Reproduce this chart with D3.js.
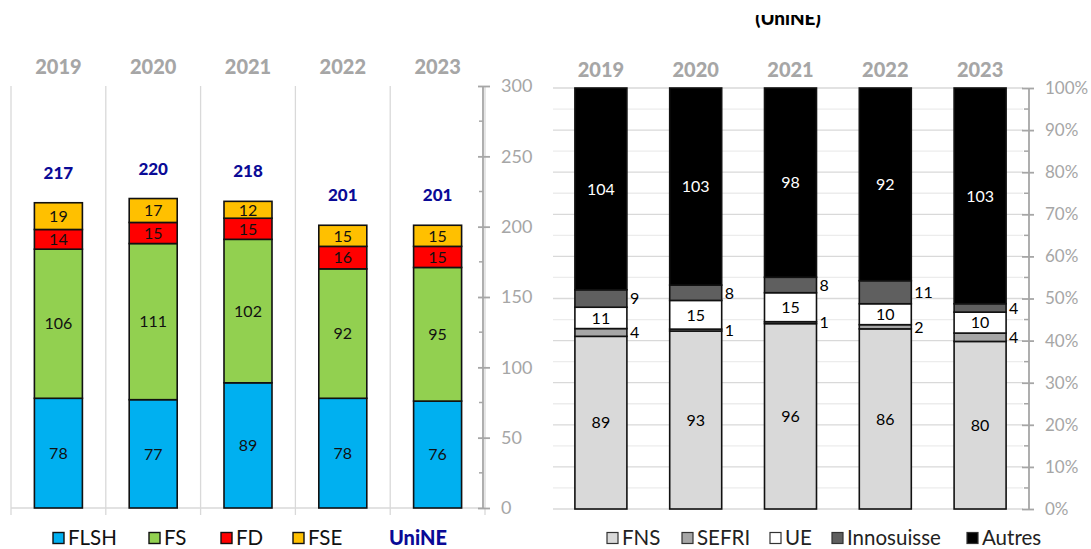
<!DOCTYPE html>
<html>
<head>
<meta charset="utf-8">
<script src="https://cdn.jsdelivr.net/npm/d3@7/dist/d3.min.js"></script>
<style>
  html, body { margin: 0; padding: 0; background: #fff; }
  svg { display: block; font-family: Lato, "Open Sans", sans-serif; }
</style>
</head>
<body>
<svg id="chart" width="1091" height="549"></svg>
<script>
// ---------- DATA ----------
const years = ["2019", "2020", "2021", "2022", "2023"];

// Left chart: faculties
const facultyNames = ["FLSH", "FS", "FD", "FSE"];
const FLSH = [78, 77, 89, 78, 76];
const FS = [106, 111, 102, 92, 95];
const FD = [14, 15, 15, 16, 15];
const FSE = [19, 17, 12, 15, 15];
const uniNETotals = [217, 220, 218, 201, 201];
const leftTicks = [0, 50, 100, 150, 200, 250, 300];

// Right chart: funding sources
const sourceNames = ["FNS", "SEFRI", "UE", "Innosuisse", "Autres"];
const FNS = [89, 93, 96, 86, 80];
const SEFRI = [4, 1, 1, 2, 4];
const UE = [11, 15, 15, 10, 10];
const Innosuisse = [9, 8, 8, 11, 4];
const Autres = [104, 103, 98, 92, 103];
const rightTicks = [0, 0.1, 0.2, 0.3, 0.4, 0.5, 0.6, 0.7, 0.8, 0.9, 1.0];

const titleFragment = "(UniNE)";

// ---------- STYLE ----------
const facultyColors = ["#00b0f0", "#92d050", "#ff0000", "#ffc000"];
const sourceColors = ["#d9d9d9", "#a6a6a6", "#ffffff", "#5f5f5f", "#000000"];
const sourceLabelColors = ["#000", "#000", "#000", "#000", "#fff"];
const sourceLabelOutside = [false, true, false, true, false];
const axisGray = "#a6a6a6";
const gridGray = "#d9d9d9";
const navy = "#0a0a96";
const legendY = 537.5;

const svg = d3.select("#chart");

// ---------- LEFT CHART ----------
const facultySeries = [FLSH, FS, FD, FSE];
const leftRows = years.map((y, i) => {
  const r = { year: y };
  facultyNames.forEach((n, k) => r[n] = facultySeries[k][i]);
  return r;
});
const leftStack = d3.stack().keys(facultyNames)(leftRows);

const xL = d3.scaleBand().domain(years).range([11, 485]).padding(0);
const yL = d3.scaleLinear().domain([0, 300]).range([508, 86]);
const barWL = 48;

const gL = svg.append("g");

// vertical separators
const sepX = years.map(y => xL(y)).concat([xL.range()[1]]);
gL.selectAll(".vsep").data(sepX).join("line")
  .attr("x1", d => d).attr("x2", d => d)
  .attr("y1", yL(300)).attr("y2", yL(0) + 7)
  .attr("stroke", gridGray).attr("stroke-width", 1.3);
// baseline
gL.append("line").attr("x1", 11).attr("x2", 485)
  .attr("y1", yL(0)).attr("y2", yL(0))
  .attr("stroke", gridGray).attr("stroke-width", 1.3);

// bars
const layerL = gL.selectAll(".layerL").data(leftStack).join("g")
  .attr("fill", (d, i) => facultyColors[i]);
layerL.selectAll("rect").data(d => d).join("rect")
  .attr("x", d => xL(d.data.year) + xL.bandwidth() / 2 - barWL / 2)
  .attr("width", barWL)
  .attr("y", d => yL(d[1]))
  .attr("height", d => yL(d[0]) - yL(d[1]))
  .attr("stroke", "#111").attr("stroke-width", 1.6);
layerL.selectAll("text").data(d => d).join("text")
  .attr("x", d => xL(d.data.year) + xL.bandwidth() / 2)
  .attr("y", d => (yL(d[0]) + yL(d[1])) / 2)
  .attr("dy", "0.36em")
  .attr("text-anchor", "middle")
  .attr("font-size", 16).attr("fill", "#111")
  .text(d => d[1] - d[0]);

// totals
gL.selectAll(".tot").data(years).join("text")
  .attr("x", y => xL(y) + xL.bandwidth() / 2)
  .attr("y", (y, i) => yL(uniNETotals[i]) - 30)
  .attr("dy", "0.36em")
  .attr("text-anchor", "middle")
  .attr("font-size", 17).attr("font-weight", 900).attr("fill", navy)
  .text((y, i) => uniNETotals[i]);

// year labels
gL.selectAll(".yr").data(years).join("text")
  .attr("x", y => xL(y) + xL.bandwidth() / 2)
  .attr("y", 67).attr("dy", "0.36em")
  .attr("text-anchor", "middle")
  .attr("font-size", 20).attr("font-weight", 900).attr("fill", axisGray)
  .text(y => y);

// right axis
const axL = d3.axisRight(yL).tickValues(leftTicks).tickSize(7).tickPadding(11).tickFormat(d3.format("d"));
const gAxL = svg.append("g").attr("transform", "translate(483,0)").call(axL);
gAxL.select(".domain").attr("stroke", axisGray).attr("stroke-width", 1.8).attr("d", `M0,${yL(300)}V${yL(0)}`);
gAxL.selectAll(".tick line").attr("stroke", axisGray).attr("stroke-width", 1.8).attr("x1", -5);
gAxL.selectAll(".tick text").attr("fill", axisGray).attr("font-size", 18).attr("font-family", "Lato, sans-serif");
gAxL.selectAll(".minor").data(d3.range(25, 300, 50)).join("line")
  .attr("x1", -4).attr("x2", 0)
  .attr("y1", d => yL(d)).attr("y2", d => yL(d))
  .attr("stroke", axisGray).attr("stroke-width", 1.5);

// left legend
const legL = svg.append("g");
const legLX = [53, 149, 221, 293];
facultyNames.forEach((n, i) => {
  legL.append("rect").attr("x", legLX[i]).attr("y", legendY - 5).attr("width", 11).attr("height", 11)
    .attr("fill", facultyColors[i]).attr("stroke", "#111").attr("stroke-width", 1.4);
  legL.append("text").attr("x", legLX[i] + 15).attr("y", legendY).attr("dy", "0.36em")
    .attr("font-size", 20.5).attr("fill", "#111").text(n);
});
legL.append("text").attr("x", 389).attr("y", legendY).attr("dy", "0.36em")
  .attr("font-size", 20).attr("font-weight", 900).attr("fill", navy).text("UniNE");

// ---------- RIGHT CHART ----------
const sourceSeries = [FNS, SEFRI, UE, Innosuisse, Autres];
const rightRows = years.map((y, i) => {
  const r = { year: y };
  sourceNames.forEach((n, k) => r[n] = sourceSeries[k][i]);
  return r;
});
const rightStack = d3.stack().keys(sourceNames).offset(d3.stackOffsetExpand)(rightRows);
rightStack.forEach((layer, k) => layer.forEach((d, i) => d.value = sourceSeries[k][i]));

const xR = d3.scaleBand().domain(years).range([553.5, 1027.5]).padding(0);
const yR = d3.scaleLinear().domain([0, 1]).range([509, 88]);
const barWR = 52;

const gR = svg.append("g");
// gridlines every 5%
gR.selectAll(".hgrid").data(d3.range(0, 21)).join("line")
  .attr("x1", 553).attr("x2", 1023)
  .attr("y1", d => yR(d / 20)).attr("y2", d => yR(d / 20))
  .attr("stroke", d => d % 2 === 0 ? "#d9d9d9" : "#ececec").attr("stroke-width", 1.3);

const layerR = gR.selectAll(".layerR").data(rightStack).join("g")
  .attr("fill", (d, i) => sourceColors[i]);
layerR.selectAll("rect").data(d => d).join("rect")
  .attr("x", d => xR(d.data.year) + xR.bandwidth() / 2 - barWR / 2)
  .attr("width", barWR)
  .attr("y", d => yR(d[1]))
  .attr("height", d => yR(d[0]) - yR(d[1]))
  .attr("stroke", "#111").attr("stroke-width", 1.6);
layerR.each(function(layer, k) {
  d3.select(this).selectAll("text").data(layer).join("text")
    .attr("x", d => xR(d.data.year) + xR.bandwidth() / 2 + (sourceLabelOutside[k] ? barWR / 2 + 3 : 0))
    .attr("y", d => (yR(d[0]) + yR(d[1])) / 2)
    .attr("dy", "0.36em")
    .attr("text-anchor", sourceLabelOutside[k] ? "start" : "middle")
    .attr("font-size", 16).attr("fill", sourceLabelColors[k])
    .text(d => d.value);
});

gR.selectAll(".yr").data(years).join("text")
  .attr("x", y => xR(y) + xR.bandwidth() / 2)
  .attr("y", 70).attr("dy", "0.36em")
  .attr("text-anchor", "middle")
  .attr("font-size", 20).attr("font-weight", 900).attr("fill", axisGray)
  .text(y => y);

const axR = d3.axisRight(yR).tickValues(rightTicks).tickSize(5).tickPadding(11).tickFormat(d3.format(".0%"));
const gAxR = svg.append("g").attr("transform", "translate(1029,0)").call(axR);
gAxR.select(".domain").attr("stroke", axisGray).attr("stroke-width", 1.8).attr("d", `M0,${yR(1)}V${yR(0)}`);
gAxR.selectAll(".tick line").attr("stroke", axisGray).attr("stroke-width", 1.8).attr("x1", -7);
gAxR.selectAll(".tick text").attr("fill", axisGray).attr("font-size", 17).attr("font-family", "Lato, sans-serif");
gAxR.selectAll(".minor").data(d3.range(1, 20, 2)).join("line")
  .attr("x1", -5).attr("x2", 0)
  .attr("y1", d => yR(d / 20)).attr("y2", d => yR(d / 20))
  .attr("stroke", axisGray).attr("stroke-width", 1.5);

// right legend
const legR = svg.append("g");
const legRX = [607, 682, 770, 832, 967];
sourceNames.forEach((n, i) => {
  legR.append("rect").attr("x", legRX[i]).attr("y", legendY - 5).attr("width", 11).attr("height", 11)
    .attr("fill", sourceColors[i]).attr("stroke", "#333").attr("stroke-width", 1.2);
  legR.append("text").attr("x", legRX[i] + 15).attr("y", legendY).attr("dy", "0.36em")
    .attr("font-size", 20.5).attr("fill", "#222").text(n);
});

// cropped title fragment
svg.append("defs").append("clipPath").attr("id", "titleClip")
  .append("rect").attr("x", 600).attr("y", 15).attr("width", 400).attr("height", 20);
svg.append("text").attr("clip-path", "url(#titleClip)")
  .attr("x", 788).attr("y", 25).attr("text-anchor", "middle")
  .attr("font-size", 19).attr("font-weight", 900).attr("fill", "#000")
  .text(titleFragment);
</script>
</body>
</html>
